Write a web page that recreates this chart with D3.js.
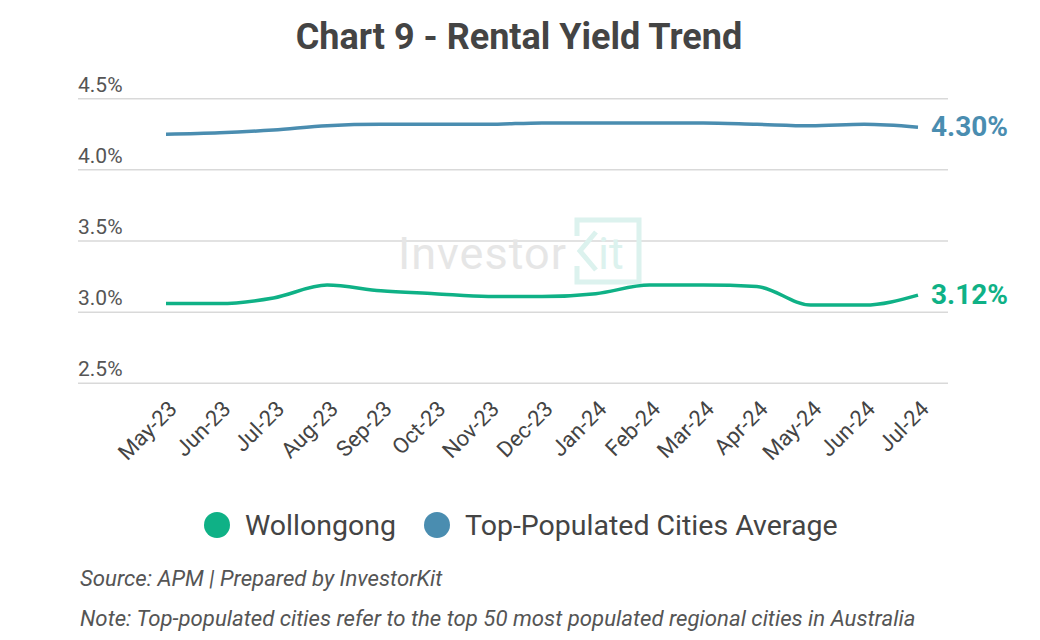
<!DOCTYPE html>
<html>
<head>
<meta charset="utf-8">
<script src="https://cdn.jsdelivr.net/npm/d3@7"></script>
<style>
  html, body { margin: 0; padding: 0; background: #fff; }
  svg { display: block; font-family: Roboto, "Noto Sans", sans-serif; }
</style>
</head>
<body>
<svg id="chart" width="1040" height="640"></svg>
<script>
const months = ["May-23","Jun-23","Jul-23","Aug-23","Sep-23","Oct-23","Nov-23","Dec-23","Jan-24","Feb-24","Mar-24","Apr-24","May-24","Jun-24","Jul-24"];
const wollongong = [3.06,3.06,3.10,3.19,3.15,3.13,3.11,3.11,3.13,3.19,3.19,3.18,3.05,3.05,3.12];
const topCities = [4.25,4.26,4.28,4.31,4.32,4.32,4.32,4.33,4.33,4.33,4.33,4.32,4.31,4.32,4.30];
const yTicks = [2.5,3.0,3.5,4.0,4.5];
const seriesNames = ["Wollongong","Top-Populated Cities Average"];
const colors = ["#0fb186","#4a8db0"];

const svg = d3.select("#chart");

const x = d3.scalePoint().domain(months).range([166, 918]);
const y = d3.scaleLinear().domain([2.5, 4.5]).range([383.3, 98.7]);

// title
svg.append("text")
  .attr("x", 519).attr("y", 49)
  .attr("text-anchor", "middle")
  .attr("font-size", 36).attr("font-weight", 700)
  .attr("fill", "#444")
  .text("Chart 9 - Rental Yield Trend");

// gridlines + y labels
const grid = svg.append("g");
grid.selectAll("line").data(yTicks).join("line")
  .attr("x1", 78).attr("x2", 948)
  .attr("y1", d => y(d)).attr("y2", d => y(d))
  .attr("stroke", "#d9d9d9").attr("stroke-width", 1.5);
grid.selectAll("text").data(yTicks).join("text")
  .attr("x", 78).attr("y", d => y(d) - 7)
  .attr("font-size", 21).attr("fill", "#555")
  .text(d => d.toFixed(1) + "%");

// watermark
const wm = svg.append("g");
wm.append("text").attr("x", 398).attr("y", 269)
  .attr("font-size", 45).attr("fill", "#e6e6e6").attr("letter-spacing", 1)
  .text("Investor");
wm.append("path")
  .attr("d", "M577,236 L577,220 L639,220 L639,282 L577,282 L577,266")
  .attr("fill", "none").attr("stroke", "#dcf2ee").attr("stroke-width", 5);
wm.append("path")
  .attr("d", "M596,232 L580,251 L596,270")
  .attr("fill", "none").attr("stroke", "#dcf2ee").attr("stroke-width", 5);
wm.append("text").attr("x", 598).attr("y", 269)
  .attr("font-size", 45).attr("fill", "#dcf2ee")
  .text("it");

// lines
const line = d3.line()
  .x((d, i) => x(months[i]))
  .y(d => y(d))
  .curve(d3.curveMonotoneX);

[wollongong, topCities].forEach((s, k) => {
  svg.append("path").datum(s)
    .attr("d", line)
    .attr("fill", "none")
    .attr("stroke", colors[k])
    .attr("stroke-width", 3.5);
  const last = s[s.length - 1];
  svg.append("text")
    .attr("x", 931).attr("y", y(last) + 9)
    .attr("font-size", 28).attr("font-weight", 700)
    .attr("fill", colors[k])
    .text(last.toFixed(2) + "%");
});

// x axis labels
svg.append("g").selectAll("text").data(months).join("text")
  .attr("transform", d => `translate(${x(d) + 1},${399}) rotate(-45)`)
  .attr("text-anchor", "end")
  .attr("dominant-baseline", "hanging")
  .attr("font-size", 22).attr("fill", "#444")
  .text(d => d);

// legend
const legendX = [217, 437];
const lg = svg.append("g");
seriesNames.forEach((n, k) => {
  lg.append("circle").attr("cx", legendX[k]).attr("cy", 525).attr("r", 13)
    .attr("fill", colors[k]);
  lg.append("text").attr("x", legendX[k] + 28).attr("y", 535)
    .attr("font-size", 28.5).attr("fill", "#444").text(n);
});

// footer
svg.append("text").attr("x", 80).attr("y", 586)
  .attr("font-size", 22.2).attr("font-style", "italic").attr("fill", "#555")
  .text("Source: APM | Prepared by InvestorKit");
svg.append("text").attr("x", 80).attr("y", 626)
  .attr("font-size", 22.2).attr("font-style", "italic").attr("fill", "#555")
  .text("Note: Top-populated cities refer to the top 50 most populated regional cities in Australia");
</script>
</body>
</html>
